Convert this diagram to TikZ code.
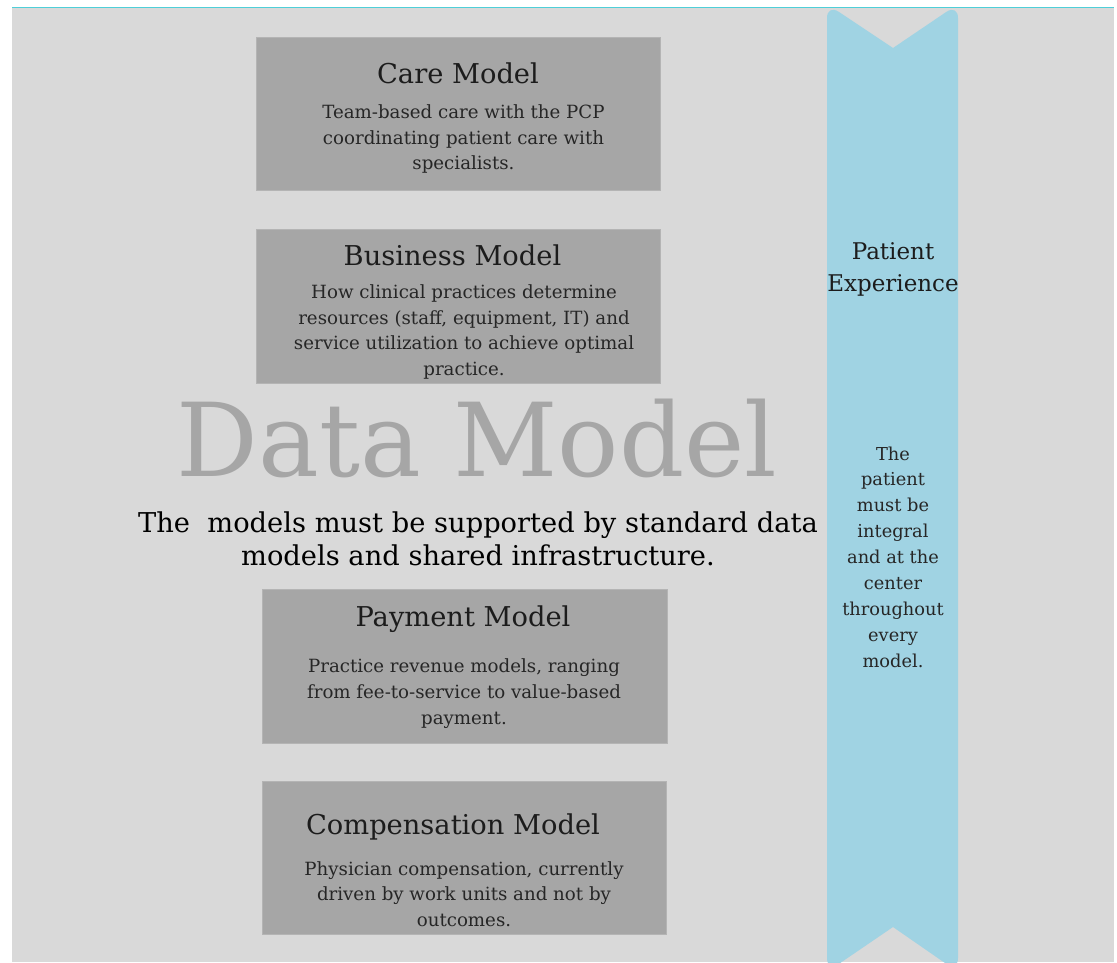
\documentclass[tikz,border=0pt]{standalone}
\usepackage{fontspec}
\newfontfamily\slab{DejaVu Serif}
\definecolor{bggray}{HTML}{D9D9D9}
\definecolor{boxgray}{HTML}{A6A6A6}
\definecolor{boxedge}{HTML}{B4B4B4}
\definecolor{ribbonblue}{HTML}{A0D3E3}
\definecolor{tealline}{HTML}{4FCFD8}
\definecolor{titlecol}{HTML}{1C1C1C}
\definecolor{bodycol}{HTML}{262626}
\definecolor{bigcol}{HTML}{A6A6A6}
\begin{document}
\begin{tikzpicture}[x=1pt,y=-1pt,
  modelbox/.style={fill=boxgray, draw=boxedge, line width=0.8pt, inner sep=0pt},
  boxtitle/.style={font=\slab\fontsize{27.3}{32}\selectfont, text=titlecol, anchor=base, inner sep=0pt},
  boxbody/.style={font=\slab\fontsize{18.2}{25.7}\selectfont, text=bodycol, align=center, anchor=base, inner sep=0pt},
  ribtitle/.style={font=\slab\fontsize{23}{32.7}\selectfont, text=titlecol, align=center, anchor=base, inner sep=0pt},
  ribbody/.style={font=\slab\fontsize{17.8}{25.9}\selectfont, text=bodycol, align=center, anchor=base, inner sep=0pt}]
\useasboundingbox (0,0) rectangle (1117,962);
\fill[white] (0,0) rectangle (1117,962);
\fill[bggray] (12,8) rectangle (1114,962);
\draw[tealline, line width=1.5pt] (12,7.5) -- (1114,7.5);
% ribbon
\begin{scope}
\clip (12,8) rectangle (1114,962);
\fill[ribbonblue] (893,48) [rounded corners=14pt] -- (958,4) -- (958,972) [sharp corners] -- (893,927) [rounded corners=14pt] -- (827,972) -- (827,4) [sharp corners] -- cycle;
\end{scope}
% boxes
\node[modelbox, minimum width=404pt, minimum height=153pt] (care) at (458,113.5) {};
\node[modelbox, minimum width=404pt, minimum height=154pt] (business) at (458,306) {};
\node[modelbox, minimum width=405pt, minimum height=154pt] (payment) at (464.5,666) {};
\node[modelbox, minimum width=404pt, minimum height=153pt] (compensation) at (464,857.5) {};
% titles and texts (multi-line nodes are anchored at the baseline of their last line)
\node[boxtitle] (caret) at (458,83) {Care Model};
\node[boxbody] (careb) at (463.5,169.7) {Team-based care with the PCP\\coordinating patient care with\\specialists.};
\node[boxtitle] (businesst) at (452.5,265) {Business Model};
\node[boxbody] (businessb) at (464,375.4) {How clinical practices determine\\resources (staff, equipment, IT) and\\service utilization to achieve optimal\\practice.};
\node[boxtitle] (paymentt) at (463,626) {Payment Model};
\node[boxbody] (paymentb) at (464,724.1) {Practice revenue models, ranging\\from fee-to-service to value-based\\payment.};
\node[boxtitle] (compt) at (453,834) {Compensation Model};
\node[boxbody] (compb) at (464,926.4) {Physician compensation, currently\\driven by work units and not by\\outcomes.};
% data model
\node[font=\slab\fontsize{102}{102}\selectfont, text=bigcol, anchor=base, inner sep=0pt] (datamodel) at (477,476) {Data Model};
\node[font=\slab\fontsize{27.3}{33}\selectfont, text=black, align=center, anchor=base, inner sep=0pt] (statement) at (478,565) {The\ \ models must be supported by standard data\\models and shared infrastructure.};
% ribbon text
\node[ribtitle] (pe) at (893,291.7) {Patient\\Experience};
\node[ribbody] (pb) at (893,667.2) {The\\patient\\must be\\integral\\and at the\\center\\throughout\\every\\model.};
\end{tikzpicture}
\end{document}
